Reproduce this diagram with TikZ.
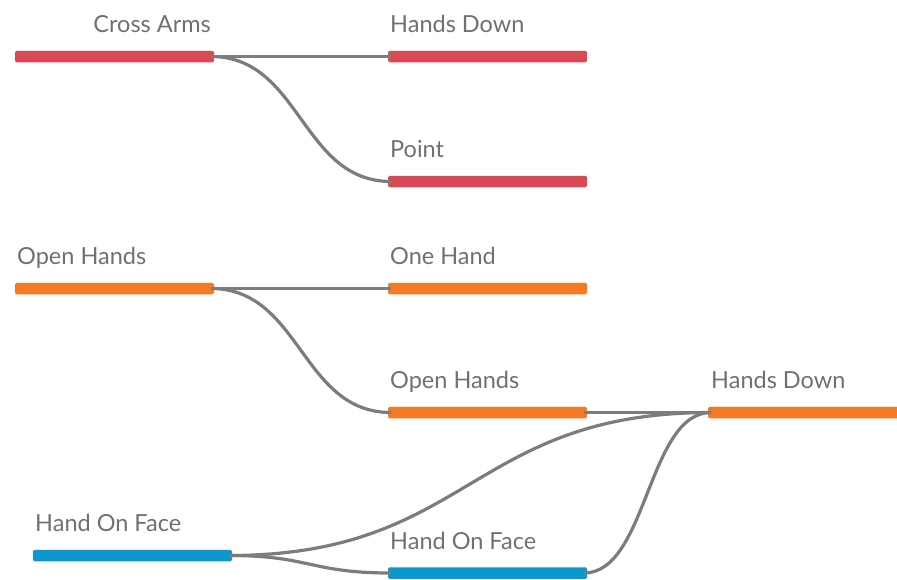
\documentclass[tikz,border=0pt]{standalone}
\usepackage{fontspec}
\setmainfont{Lato}
\usetikzlibrary{calc}
\definecolor{cred}{HTML}{D94A56}
\definecolor{corange}{HTML}{F47A24}
\definecolor{cblue}{HTML}{0B97CF}
\definecolor{ctext}{HTML}{707070}
\definecolor{clink}{HTML}{7C7C7C}
\tikzset{
  bar/.style={fill=#1, draw=none, rounded corners=1.5pt, minimum width=199pt, minimum height=11.5pt, inner sep=0pt, anchor=west, outer sep=0pt},
  lbl/.style={text=ctext, font=\fontsize{23.5}{26}\selectfont, inner sep=0pt, anchor=base west},
  lnk/.style={draw=clink, line width=3.2pt}
}
\newcommand\linkab[2]{%
  \draw[lnk] let \p1=([xshift=-3pt]#1.east), \p2=([xshift=3pt]#2.west) in
    (\p1) .. controls ({(\x1+\x2)/2},\y1) and ({(\x1+\x2)/2},\y2) .. (\p2);}
\begin{document}
\begin{tikzpicture}[x=1pt,y=-1pt]
\useasboundingbox (0,0) rectangle (897,579);
% bars
\node[bar=cred] (ca) at (15,56.5) {};
\node[bar=cred] (hd1) at (388,56.5) {};
\node[bar=cred] (pt) at (388,181.5) {};
\node[bar=corange] (oh1) at (15,288.5) {};
\node[bar=corange] (one) at (388,288.5) {};
\node[bar=corange] (oh2) at (388,412.5) {};
\node[bar=corange, minimum width=192pt] (hd2) at (708,412.5) {};
\node[bar=cblue] (hf1) at (33,555.5) {};
\node[bar=cblue] (hf2) at (388,573) {};
% labels
\node[lbl, anchor=base east] (lca) at (211,32) {Cross Arms};
\node[lbl] (lhd1) at (390,32) {Hands Down};
\node[lbl] (lpt) at (390,157) {Point};
\node[lbl] (loh1) at (17,264) {Open Hands};
\node[lbl] (lone) at (390,264) {One Hand};
\node[lbl] (loh2) at (390,388) {Open Hands};
\node[lbl] (lhd2) at (711,388) {Hands Down};
\node[lbl] (lhf1) at (35,531) {Hand On Face};
\node[lbl] (lhf2) at (390,549) {Hand On Face};
% links
\linkab{ca}{hd1}
\linkab{ca}{pt}
\linkab{oh1}{one}
\linkab{oh1}{oh2}
\linkab{oh2}{hd2}
\linkab{hf1}{hd2}
\linkab{hf1}{hf2}
\linkab{hf2}{hd2}
\end{tikzpicture}
\end{document}
